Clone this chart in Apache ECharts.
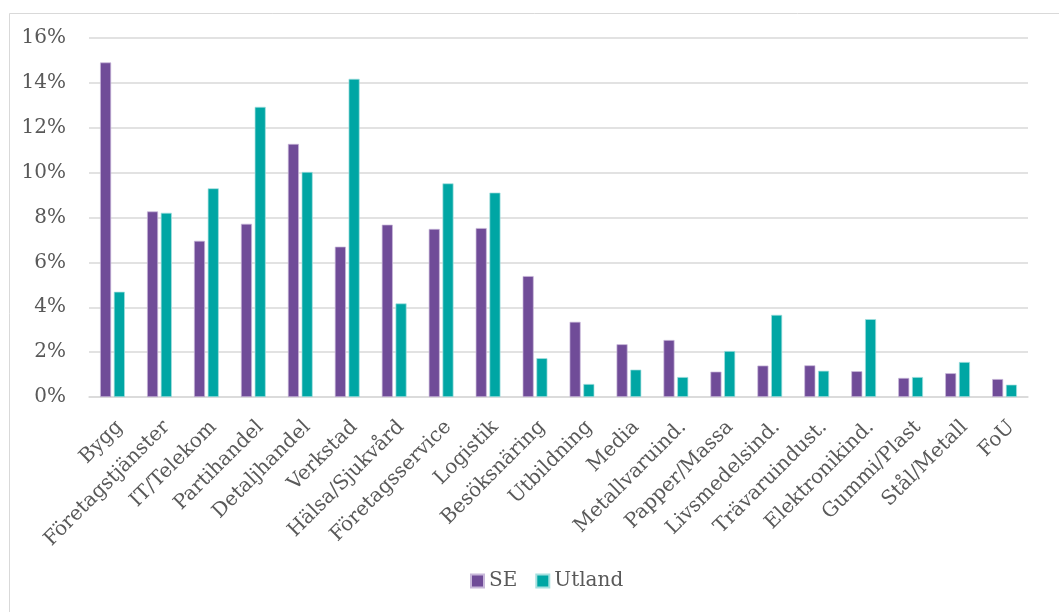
<!DOCTYPE html>
<html><head><meta charset="utf-8">
<script src="https://cdn.jsdelivr.net/npm/echarts@6/dist/echarts.min.js"></script>
<style>html,body{margin:0;padding:0;background:#fff}#c{width:1059px;height:612px}</style>
</head><body><div id="c"></div>
<script>
const categories = ["Bygg","Företagstjänster","IT/Telekom","Partihandel","Detaljhandel","Verkstad","Hälsa/Sjukvård","Företagsservice","Logistik","Besöksnäring","Utbildning","Media","Metallvaruind.","Papper/Massa","Livsmedelsind.","Trävaruindust.","Elektronikind.","Gummi/Plast","Stål/Metall","FoU"];
const seValues = [14.91,8.27,6.96,7.72,11.28,6.70,7.68,7.49,7.53,5.39,3.35,2.35,2.54,1.13,1.40,1.41,1.15,0.85,1.06,0.80];
const utlandValues = [4.69,8.21,9.30,12.93,10.03,14.18,4.17,9.52,9.11,1.73,0.58,1.22,0.89,2.05,3.66,1.17,3.47,0.89,1.56,0.55];
const seriesNames = ["SE","Utland"];
const yTicks = [0,2,4,6,8,10,12,14,16];

const font = "'DejaVu Serif','Liberation Serif',serif";
const chart = echarts.init(document.getElementById('c'), null, {renderer:'canvas'});
chart.setOption({
  animation:false,
  backgroundColor:'#fff',
  graphic:[{type:'rect',shape:{x:9.5,y:13.5,width:1100,height:700},style:{fill:'none',stroke:'#d9d9d9',lineWidth:1},silent:true,z:-1}],
  grid:{left:89,right:31,top:38,bottom:215,containLabel:false},
  legend:{data:seriesNames,bottom:16,left:465,itemWidth:13,itemHeight:13,itemGap:18,icon:'rect',
    textStyle:{fontFamily:font,fontSize:20,color:'#595959'}},
  xAxis:{type:'category',data:categories,
    axisLine:{lineStyle:{color:'#d9d9d9',width:1.5}},axisTick:{show:false},
    axisLabel:{rotate:45,interval:0,margin:20,verticalAlign:'top',fontFamily:font,fontSize:20,color:'#595959'}},
  yAxis:{type:'value',min:0,max:16,interval:2,
    axisLine:{show:false},axisTick:{show:false},
    splitLine:{lineStyle:{color:'#d9d9d9',width:1.5}},
    axisLabel:{formatter:v=>yTicks.includes(v)?v+'%':'',fontFamily:font,fontSize:20,color:'#595959',margin:23}},
  series:[
    {name:seriesNames[0],type:'bar',data:seValues,barWidth:11,barGap:'25%',
      itemStyle:{color:'#704c98',borderColor:'#c8b8da',borderWidth:0.7}},
    {name:seriesNames[1],type:'bar',data:utlandValues,barWidth:11,
      itemStyle:{color:'#00a6a4',borderColor:'#a6e0df',borderWidth:0.7}}
  ]
});
</script></body></html>
